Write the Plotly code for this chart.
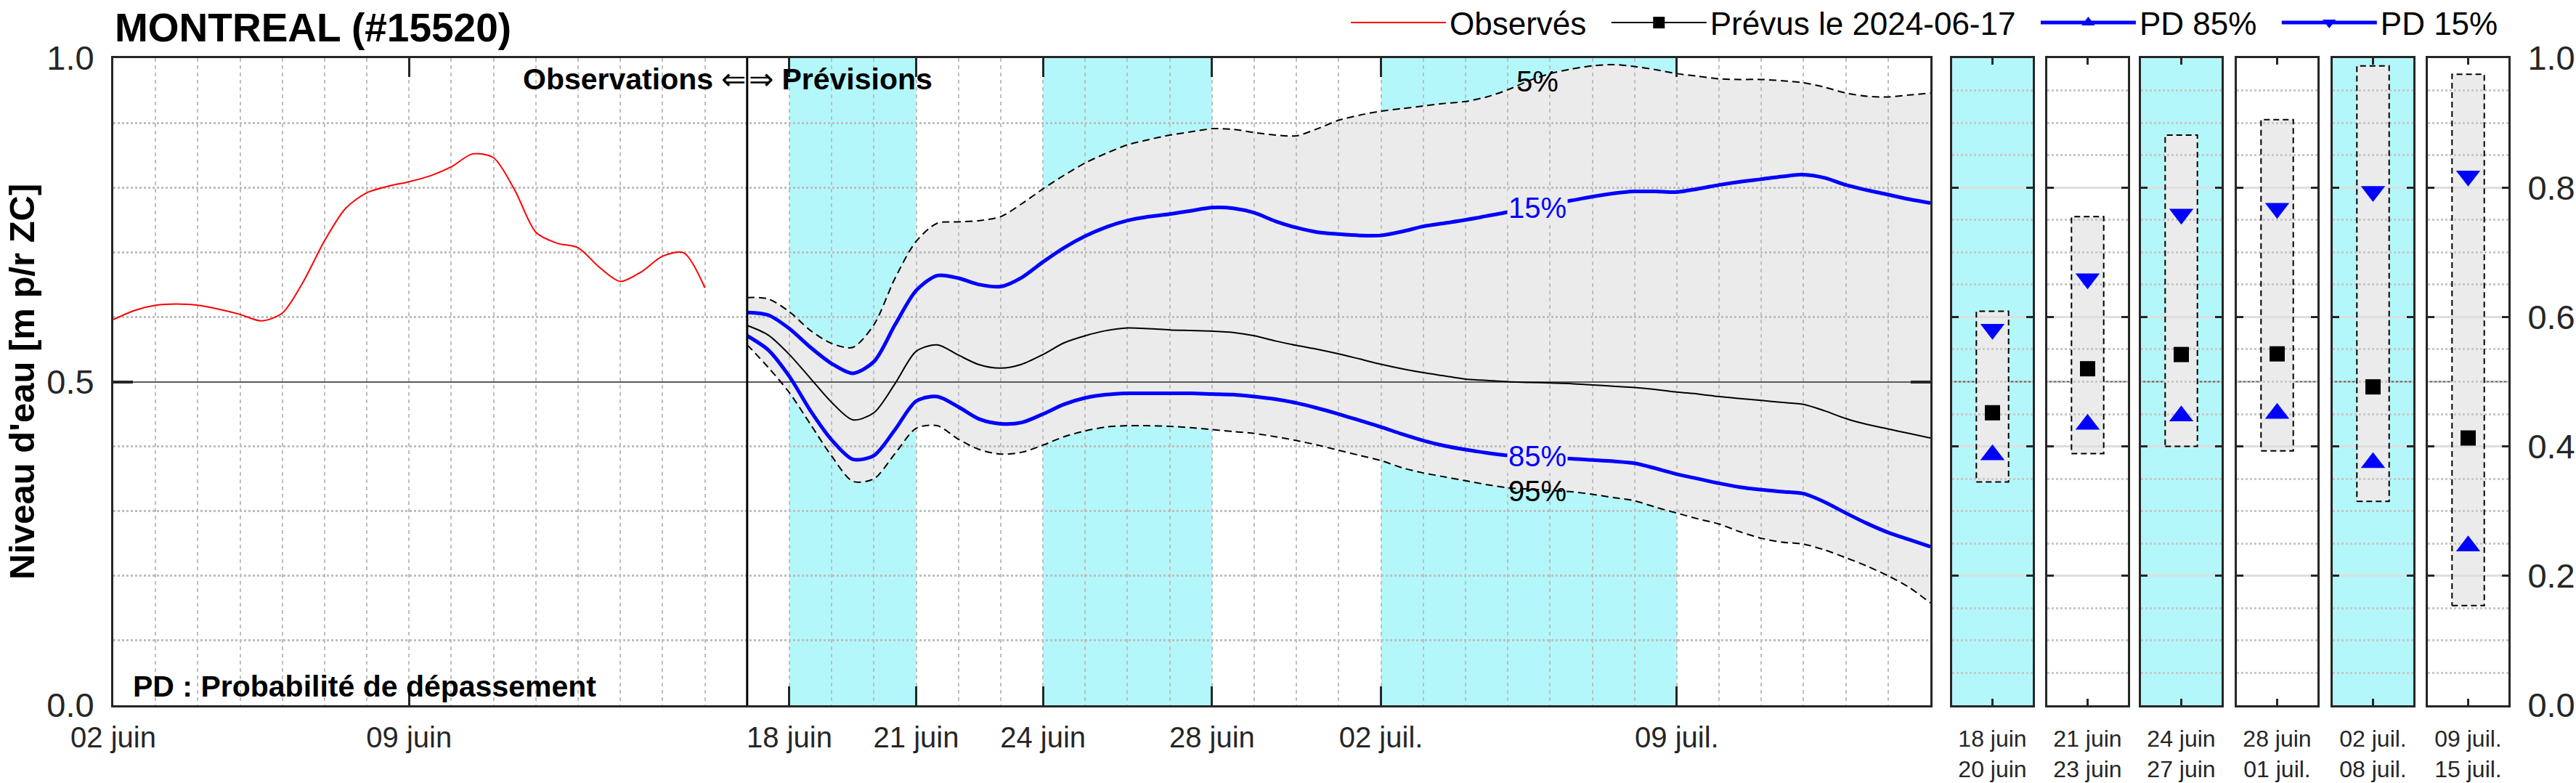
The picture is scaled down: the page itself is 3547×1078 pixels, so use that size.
import pandas as pd
import plotly.graph_objects as go

W, H = 3547, 1078

# ---- observed levels (every 12 h from 2024-06-02 00:00)
obs_debut = "2024-06-02"
obs_niveaux = [0.596, 0.610, 0.618, 0.620, 0.618, 0.612, 0.604, 0.594, 0.606, 0.655,
               0.718, 0.768, 0.792, 0.802, 0.809, 0.818, 0.832, 0.852, 0.846, 0.796,
               0.731, 0.714, 0.707, 0.677, 0.655, 0.670, 0.694, 0.699, 0.645]

# ---- forecast issued 2024-06-17 (every 12 h from 2024-06-17 00:00)
prev_debut = "2024-06-17"
prev_05 = [0.630, 0.628, 0.608, 0.579, 0.559, 0.553, 0.588, 0.660, 0.717, 0.745,
           0.747, 0.749, 0.755, 0.775, 0.798, 0.819, 0.838, 0.853, 0.866, 0.874,
           0.881, 0.886, 0.891, 0.890, 0.885, 0.881, 0.880, 0.891, 0.904, 0.912,
           0.918, 0.922, 0.926, 0.930, 0.933, 0.940, 0.951, 0.965, 0.976, 0.983,
           0.988, 0.990, 0.987, 0.982, 0.976, 0.972, 0.968, 0.967, 0.967, 0.965,
           0.962, 0.955, 0.946, 0.941, 0.940, 0.943, 0.946]
prev_15 = [0.607, 0.603, 0.582, 0.553, 0.528, 0.513, 0.531, 0.588, 0.641, 0.664,
           0.660, 0.650, 0.647, 0.661, 0.685, 0.707, 0.725, 0.739, 0.749, 0.755,
           0.759, 0.764, 0.769, 0.768, 0.761, 0.748, 0.738, 0.731, 0.728, 0.726,
           0.726, 0.732, 0.740, 0.745, 0.750, 0.756, 0.762, 0.769, 0.775, 0.780,
           0.786, 0.791, 0.794, 0.794, 0.793, 0.798, 0.804, 0.809, 0.813, 0.817,
           0.820, 0.815, 0.804, 0.796, 0.789, 0.782, 0.776]
prev_med = [0.587, 0.572, 0.542, 0.505, 0.468, 0.441, 0.452, 0.497, 0.547, 0.557,
            0.541, 0.526, 0.521, 0.527, 0.542, 0.560, 0.571, 0.579, 0.583, 0.582,
            0.580, 0.579, 0.578, 0.576, 0.571, 0.563, 0.556, 0.550, 0.543, 0.535,
            0.527, 0.520, 0.514, 0.509, 0.504, 0.502, 0.500, 0.499, 0.498, 0.497,
            0.495, 0.493, 0.491, 0.488, 0.484, 0.481, 0.477, 0.474, 0.471, 0.468,
            0.465, 0.455, 0.443, 0.434, 0.427, 0.420, 0.413]
prev_85 = [0.571, 0.549, 0.508, 0.455, 0.410, 0.380, 0.386, 0.426, 0.470, 0.477,
           0.461, 0.442, 0.435, 0.437, 0.450, 0.465, 0.475, 0.480, 0.482, 0.482,
           0.482, 0.482, 0.481, 0.480, 0.477, 0.473, 0.467, 0.459, 0.450, 0.440,
           0.430, 0.419, 0.409, 0.401, 0.395, 0.390, 0.386, 0.384, 0.382, 0.381,
           0.379, 0.377, 0.374, 0.366, 0.357, 0.350, 0.343, 0.337, 0.333, 0.330,
           0.327, 0.314, 0.297, 0.281, 0.267, 0.256, 0.245]
prev_95 = [0.557, 0.522, 0.483, 0.434, 0.385, 0.346, 0.350, 0.389, 0.428, 0.432,
           0.411, 0.395, 0.388, 0.391, 0.402, 0.415, 0.424, 0.430, 0.432, 0.432,
           0.431, 0.429, 0.426, 0.423, 0.420, 0.415, 0.409, 0.402, 0.394, 0.386,
           0.378, 0.367, 0.359, 0.353, 0.347, 0.341, 0.336, 0.334, 0.332, 0.330,
           0.326, 0.321, 0.316, 0.306, 0.297, 0.288, 0.280, 0.268, 0.258, 0.252,
           0.249, 0.240, 0.228, 0.215, 0.200, 0.182, 0.158]

# ---- x axis
x_debut, x_fin = "2024-06-02", "2024-07-15"
ticks_dates = ["2024-06-02", "2024-06-09", "2024-06-18", "2024-06-21",
               "2024-06-24", "2024-06-28", "2024-07-02", "2024-07-09"]
ticks_textes = ["02 juin", "09 juin", "18 juin", "21 juin",
                "24 juin", "28 juin", "02 juil.", "09 juil."]

# ---- forecast periods (summary panels)
periodes_debut = ["2024-06-18", "2024-06-21", "2024-06-24", "2024-06-28", "2024-07-02", "2024-07-09"]
periodes_fin = ["2024-06-21", "2024-06-24", "2024-06-28", "2024-07-02", "2024-07-09", "2024-07-15"]
periodes_textes = ["18 juin<br>20 juin", "21 juin<br>23 juin", "24 juin<br>27 juin",
                   "28 juin<br>01 juil.", "02 juil.<br>08 juil.", "09 juil.<br>15 juil."]
boite_haut = [0.609, 0.755, 0.881, 0.905, 0.988, 0.975]
boite_bas = [0.345, 0.389, 0.400, 0.393, 0.315, 0.154]
periode_15 = [0.581, 0.659, 0.759, 0.768, 0.794, 0.818]
periode_med = [0.452, 0.520, 0.542, 0.543, 0.492, 0.413]
periode_85 = [0.387, 0.434, 0.447, 0.451, 0.375, 0.246]

# ---- percent labels on the envelope
etiq_textes = ["5%", "15%", "85%", "95%"]
etiq_y = [0.964, 0.769, 0.385, 0.331]
etiq_date = "2024-07-05 17:00"

CYAN = "rgb(179,247,250)"
GRIS = "rgb(235,235,235)"
BLEU = "rgb(0,0,255)"
AXE = "rgb(38,38,38)"
GRILLE = "rgb(190,190,190)"
POLICE = "Liberation Sans, Arial, sans-serif"
NB = "\u00a0"

Y_DOM = [1 - 971 / H, 1 - 80 / H]
MAIN_X = [156 / W, 2658 / W]
panneaux_gauche = [2688, 2819, 2948, 3080, 3212, 3343]
LARG = 111
DEMI = 0.2

t_obs = pd.date_range(obs_debut, periods=len(obs_niveaux), freq="12h")
t_prev = pd.date_range(prev_debut, periods=len(prev_05), freq="12h")
lisse = dict(shape="spline", smoothing=0.8)

fig = go.Figure()

# bottom layer: grey envelope 5%-95%
fig.add_trace(go.Scatter(x=t_prev, y=prev_95, mode="lines", line=dict(width=0, **lisse),
                         xaxis="x", yaxis="y", showlegend=False, hoverinfo="skip"))
fig.add_trace(go.Scatter(x=t_prev, y=prev_05, mode="lines", line=dict(width=0, **lisse),
                         fill="tonexty", fillcolor=GRIS,
                         xaxis="x", yaxis="y", showlegend=False, hoverinfo="skip"))

# top layer: lines
fig.add_trace(go.Scatter(x=t_obs, y=obs_niveaux, mode="lines", name="Observés" + NB * 2,
                         line=dict(color="red", width=2, **lisse), xaxis="x2", yaxis="y2"))
for serie in (prev_05, prev_95):
    fig.add_trace(go.Scatter(x=t_prev, y=serie, mode="lines", showlegend=False,
                             line=dict(color="black", width=2, dash="10px,6px", **lisse),
                             xaxis="x2", yaxis="y2"))
for serie in (prev_15, prev_85):
    fig.add_trace(go.Scatter(x=t_prev, y=serie, mode="lines", showlegend=False,
                             line=dict(color=BLEU, width=5, **lisse), xaxis="x2", yaxis="y2"))
fig.add_trace(go.Scatter(x=t_prev, y=prev_med, mode="lines", showlegend=False,
                         line=dict(color="black", width=2, **lisse), xaxis="x2", yaxis="y2"))

# summary panels
box_x = [-DEMI, DEMI, DEMI, -DEMI, -DEMI]
for k in range(6):
    b, t = 3 + k, 9 + k
    box_y = [boite_bas[k], boite_bas[k], boite_haut[k], boite_haut[k], boite_bas[k]]
    fig.add_trace(go.Scatter(x=box_x, y=box_y, mode="lines", fill="toself", fillcolor=GRIS,
                             line=dict(width=0), xaxis=f"x{b}", yaxis=f"y{b}",
                             showlegend=False, hoverinfo="skip"))
    fig.add_trace(go.Scatter(x=box_x, y=box_y, mode="lines",
                             line=dict(color="black", width=2, dash="8px,5px"),
                             xaxis=f"x{t}", yaxis=f"y{t}", showlegend=False, hoverinfo="skip"))
    leg = k == 0
    fig.add_trace(go.Scatter(x=[0], y=[periode_med[k]], mode="lines+markers",
                             name="Prévus le 2024-06-17" + NB * 2, legendgroup="med",
                             showlegend=leg, line=dict(color="black", width=2),
                             marker=dict(symbol="square", size=21, color="black"),
                             xaxis=f"x{t}", yaxis=f"y{t}"))
    fig.add_trace(go.Scatter(x=[0], y=[periode_85[k]], mode="lines+markers",
                             name="PD 85%" + NB * 2, legendgroup="p85", showlegend=leg,
                             line=dict(color=BLEU, width=5),
                             marker=dict(symbol="triangle-up", size=29, color=BLEU),
                             xaxis=f"x{t}", yaxis=f"y{t}"))
    fig.add_trace(go.Scatter(x=[0], y=[periode_15[k]], mode="lines+markers",
                             name="PD 15%", legendgroup="p15", showlegend=leg,
                             line=dict(color=BLEU, width=5),
                             marker=dict(symbol="triangle-down", size=29, color=BLEU),
                             xaxis=f"x{t}", yaxis=f"y{t}"))

cache = dict(visible=False, showgrid=False, zeroline=False, automargin=False)
cadre = dict(showline=True, linecolor=AXE, linewidth=3, mirror="ticks", ticks="inside",
             tickcolor=AXE, zeroline=False, automargin=False)

layout = dict(
    xaxis=dict(domain=MAIN_X, range=[x_debut, x_fin], type="date", anchor="y", **cache),
    yaxis=dict(domain=Y_DOM, range=[0, 1], anchor="x", **cache),
    xaxis2=dict(domain=MAIN_X, range=[x_debut, x_fin], type="date", anchor="y2",
                tickmode="array", tickvals=ticks_dates, ticktext=ticks_textes,
                ticklen=26, tickwidth=3, tickfont=dict(size=40, color=AXE),
                ticklabelstandoff=7,
                showgrid=True, gridcolor=GRILLE, gridwidth=2, griddash="5px,5px",
                minor=dict(dtick=86400000, tick0=x_debut, showgrid=True, gridcolor=GRILLE,
                           gridwidth=2, griddash="5px,5px"),
                **cadre),
    yaxis2=dict(domain=Y_DOM, range=[0, 1], anchor="x2", tickmode="linear", tick0=0,
                dtick=0.5, tickformat=".1f", ticklen=27, tickwidth=4,
                tickfont=dict(size=47, color=AXE), ticklabelstandoff=14,
                showgrid=True, gridcolor="rgb(90,90,90)", gridwidth=2,
                minor=dict(dtick=0.1, tick0=0, showgrid=True, gridcolor=GRILLE,
                           gridwidth=3, griddash="3px,3px"),
                **cadre),
)

shapes = []
for k in (0, 2, 4):
    shapes.append(dict(type="rect", xref="x", yref="y domain", x0=periodes_debut[k],
                       x1=periodes_fin[k], y0=0, y1=1, fillcolor=CYAN,
                       line=dict(width=0), layer="below"))
shapes.append(dict(type="line", xref="x2", yref="y2 domain", x0=prev_debut, x1=prev_debut,
                   y0=0, y1=1, line=dict(color="black", width=3), layer="above"))

for k in range(6):
    b, t = 3 + k, 9 + k
    dom = [panneaux_gauche[k] / W, (panneaux_gauche[k] + LARG) / W]
    layout[f"xaxis{b}"] = dict(domain=dom, range=[-0.5, 0.5], anchor=f"y{b}", **cache)
    layout[f"yaxis{b}"] = dict(domain=Y_DOM, range=[0, 1], anchor=f"x{b}", **cache)
    layout[f"xaxis{t}"] = dict(domain=dom, range=[-0.5, 0.5], anchor=f"y{t}",
                               tickmode="array", tickvals=[0], ticktext=[periodes_textes[k]],
                               ticklen=9, tickwidth=3, tickfont=dict(size=32, color=AXE),
                               ticklabelstandoff=16, showgrid=False, **cadre)
    layout[f"yaxis{t}"] = dict(domain=Y_DOM, range=[0, 1], anchor=f"x{t}",
                               tickmode="linear", tick0=0, dtick=0.2, tickformat=".1f",
                               ticklen=9, tickwidth=3, tickfont=dict(size=47, color=AXE),
                               showticklabels=(k == 5), side="right" if k == 5 else "left",
                               ticklabelstandoff=14,
                               showgrid=True, gridcolor="rgb(222,222,222)", gridwidth=3,
                               minor=dict(dtick=0.05, tick0=0, showgrid=True,
                                          gridcolor="rgb(200,200,200)", gridwidth=3,
                                          griddash="3px,3px"),
                               **cadre)
    if k % 2 == 0:
        shapes.append(dict(type="rect", xref=f"x{b} domain", yref=f"y{b} domain",
                           x0=0, x1=1, y0=0, y1=1, fillcolor=CYAN, line=dict(width=0),
                           layer="below"))
    shapes.append(dict(type="line", xref=f"x{t} domain", yref=f"y{t}", x0=0, x1=1,
                       y0=0.5, y1=0.5, line=dict(color="rgb(90,90,90)", width=2),
                       layer="below"))

annotations = [
    dict(text="<b>MONTREAL (#15520)</b>", xref="paper", yref="paper", x=156 / W,
         y=1 - 38 / H, xanchor="left", yanchor="middle", showarrow=False,
         font=dict(size=55, color="black")),
    dict(text="<b>Niveau d'eau [m p/r ZC]</b>", xref="paper", yref="paper", x=30 / W,
         y=1 - 526 / H, xanchor="center", yanchor="middle", textangle=-90,
         showarrow=False, font=dict(size=49, color="black")),
    dict(text="<b>Observations</b> ⇐", xref="x2", yref="y2", x=prev_debut, y=0.968,
         xanchor="right", yanchor="middle", showarrow=False, font=dict(size=41, color="black")),
    dict(text="⇒ <b>Prévisions</b>", xref="x2", yref="y2", x=prev_debut, y=0.968,
         xanchor="left", yanchor="middle", showarrow=False, font=dict(size=41, color="black")),
    dict(text="<b>PD : Probabilité de dépassement</b>", xref="paper", yref="y2",
         x=181 / W, y=0.029, xanchor="left", yanchor="middle", showarrow=False,
         font=dict(size=41, color="black")),
]
for txt, yv in zip(etiq_textes, etiq_y):
    bleu = txt in ("15%", "85%")
    annotations.append(dict(text=txt, xref="x2", yref="y2", x=etiq_date, y=yv,
                            xanchor="center", yanchor="middle", showarrow=False,
                            font=dict(size=40, color=BLEU if bleu else "black"),
                            bgcolor=GRIS if bleu else None))

fig.update_layout(
    **layout,
    shapes=shapes,
    annotations=annotations,
    width=W, height=H, autosize=False,
    margin=dict(l=0, r=0, t=0, b=0, autoexpand=False),
    paper_bgcolor="white",
    plot_bgcolor="rgba(0,0,0,0)",
    font=dict(family=POLICE, color=AXE),
    showlegend=True,
    legend=dict(orientation="h", x=3445 / W, xanchor="right", y=1 + 4 / H, yanchor="top",
                font=dict(size=44, color="black"), itemwidth=131,
                bgcolor="rgba(0,0,0,0)", borderwidth=0),
)

fig.write_html("out.html", config={"displayModeBar": False},
               post_script="document.body.style.margin='0';")
